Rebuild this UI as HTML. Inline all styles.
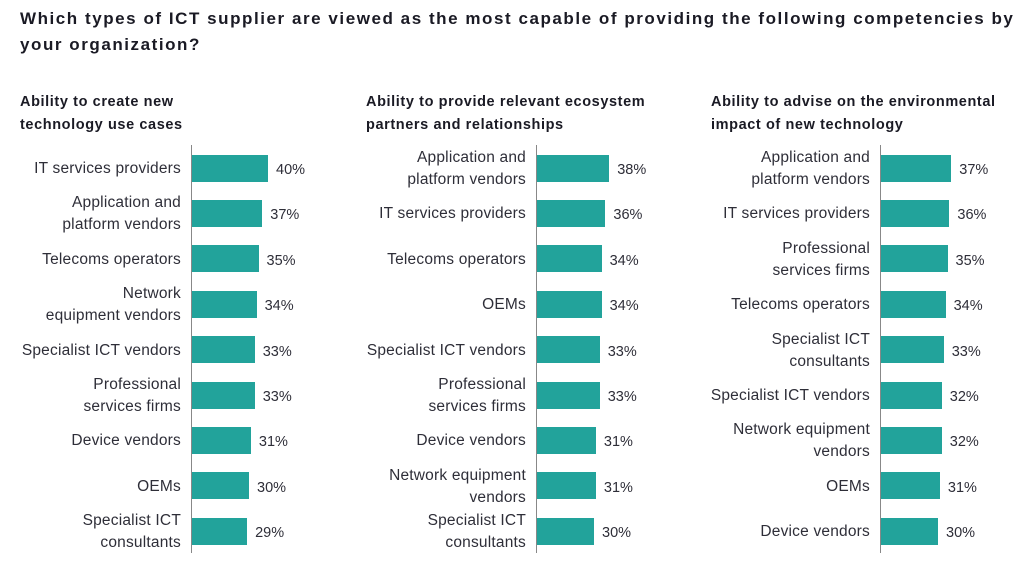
<!DOCTYPE html>
<html><head><style>
body{margin:0;width:1024px;height:570px;background:#fff;font-family:"Liberation Sans",sans-serif;color:#2e2e38;position:relative;overflow:hidden}
.t{position:absolute;left:20px;top:6px;font-weight:bold;font-size:17px;letter-spacing:1.55px;line-height:26px;color:#1a1a24;white-space:nowrap}
.h{position:absolute;font-weight:bold;font-size:14.5px;letter-spacing:0.6px;line-height:23px;color:#1a1a24;white-space:nowrap}
.ax{position:absolute;top:145px;height:408px;width:1px;background:#888}
.b{position:absolute;height:27px;background:#22a39b}
.l{position:absolute;width:300px;text-align:right;font-size:15.5px;letter-spacing:0.2px;line-height:22px;transform:translateY(-50%)}
.v{position:absolute;font-size:14.5px;transform:translateY(-50%)}
</style></head><body>
<div class="t">Which types of ICT supplier are viewed as the most capable of providing the following competencies by<br>your organization?</div>
<div class="h" style="left:20px;top:91px">Ability to create new<br>technology use cases</div>
<div class="h" style="left:366px;top:91px">Ability to provide relevant ecosystem<br>partners and relationships</div>
<div class="h" style="left:711px;top:91px">Ability to advise on the environmental<br>impact of new technology</div>
<div id="c"></div>
<script>
const P=[[191,[["IT services providers",40],["Application and<br>platform vendors",37],["Telecoms operators",35],["Network<br>equipment vendors",34],["Specialist ICT vendors",33],["Professional<br>services firms",33],["Device vendors",31],["OEMs",30],["Specialist ICT<br>consultants",29]]],
[536,[["Application and<br>platform vendors",38],["IT services providers",36],["Telecoms operators",34],["OEMs",34],["Specialist ICT vendors",33],["Professional<br>services firms",33],["Device vendors",31],["Network equipment<br>vendors",31],["Specialist ICT<br>consultants",30]]],
[880,[["Application and<br>platform vendors",37],["IT services providers",36],["Professional<br>services firms",35],["Telecoms operators",34],["Specialist ICT<br>consultants",33],["Specialist ICT vendors",32],["Network equipment<br>vendors",32],["OEMs",31],["Device vendors",30]]]];
let h='';
for(const [x,d] of P){h+=`<div class="ax" style="left:${x}px"></div>`;
d.forEach(([n,v],i)=>{const c=168+i*45.4,w=v*1.9;
h+=`<div class="b" style="left:${x+1}px;top:${c-13.5}px;width:${w}px"></div>`;
h+=`<div class="l" style="left:${x-310}px;top:${c+1}px">${n}</div>`;
h+=`<div class="v" style="left:${x+w+9}px;top:${c+2}px">${v}%</div>`;});}
document.getElementById('c').innerHTML=h;
</script>
</body></html>
